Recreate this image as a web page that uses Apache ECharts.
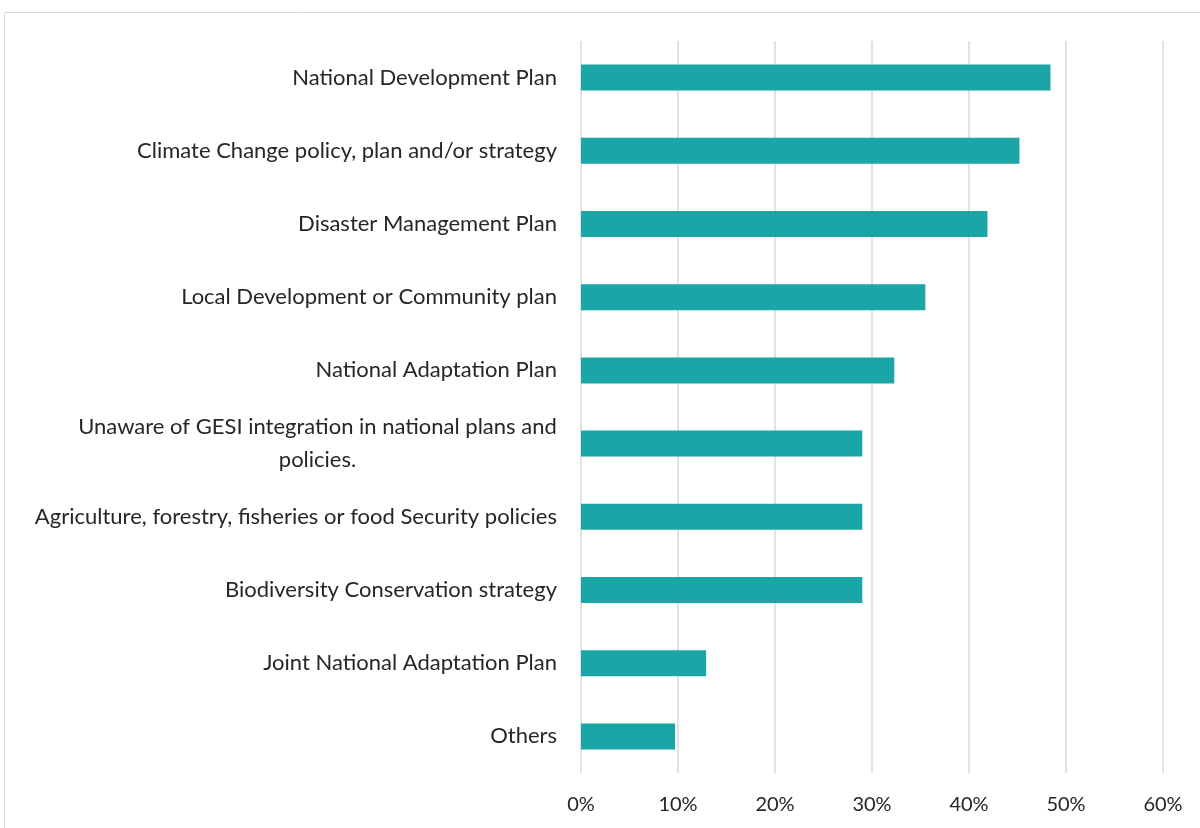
<!DOCTYPE html>
<html>
<head>
<meta charset="utf-8">
<style>
  html, body { margin: 0; padding: 0; background: #ffffff; }
  #chart { width: 1200px; height: 828px; }
</style>
<script src="https://cdn.jsdelivr.net/npm/echarts@6/dist/echarts.min.js"></script>
</head>
<body>
<div id="chart"></div>
<script>
// Plans and policies in which GESI is integrated (share of respondents)
const categories = [
  'National Development Plan',
  'Climate Change policy, plan and/or strategy',
  'Disaster Management Plan',
  'Local Development or Community plan',
  'National Adaptation Plan',
  'Unaware of GESI integration in national plans and\npolicies.',
  'Agriculture, forestry, fisheries or food Security policies',
  'Biodiversity Conservation strategy',
  'Joint National Adaptation Plan',
  'Others'
];
const shares = [48.4, 45.2, 41.9, 35.5, 32.3, 29.0, 29.0, 29.0, 12.9, 9.7];
const xTicks = [0, 10, 20, 30, 40, 50, 60];

const FONT = 'Lato';
const TEXT = '#262626';
const LABEL_SIZE = 22;

// Width of the widest line of a wrapped label, so its lines can be centred
// against each other while the block stays right-aligned to the axis.
const ctx = document.createElement('canvas').getContext('2d');
ctx.font = LABEL_SIZE + 'px ' + FONT;
function widest(text) {
  return Math.ceil(Math.max.apply(null, text.split('\n').map(l => ctx.measureText(l).width)));
}
const wrapWidth = Math.max.apply(null, categories.filter(c => c.indexOf('\n') >= 0).map(widest));

const chart = echarts.init(document.getElementById('chart'));
chart.setOption({
  animation: false,
  backgroundColor: '#ffffff',
  graphic: [{
    type: 'rect',
    shape: { x: 4.5, y: 12.5, width: 1300, height: 900 },
    style: { fill: 'none', stroke: '#d9d9d9', lineWidth: 1 },
    silent: true
  }],
  grid: { left: 581, right: 37, top: 41, bottom: 55, containLabel: false },
  xAxis: {
    type: 'value',
    min: xTicks[0],
    max: xTicks[xTicks.length - 1],
    interval: 10,
    axisLine: { show: false },
    axisTick: { show: false },
    splitLine: { show: true, lineStyle: { color: '#d9d9d9', width: 1.5 } },
    axisLabel: {
      margin: 22,
      color: TEXT,
      fontFamily: FONT,
      fontSize: 20,
      formatter: v => v + '%'
    }
  },
  yAxis: {
    type: 'category',
    inverse: true,
    data: categories,
    axisLine: { show: false },
    axisTick: { show: false },
    axisLabel: {
      margin: 24,
      color: TEXT,
      fontFamily: FONT,
      fontSize: LABEL_SIZE,
      lineHeight: 33,
      formatter: v => v.indexOf('\n') >= 0
        ? v.split('\n').map(l => '{c|' + l + '}').join('\n')
        : v,
      rich: {
        c: { width: wrapWidth, align: 'center', color: TEXT, fontFamily: FONT, fontSize: LABEL_SIZE, lineHeight: 33 }
      }
    }
  },
  series: [{
    type: 'bar',
    data: shares,
    barWidth: 26,
    itemStyle: { color: '#1ba5a6' }
  }]
});
</script>
</body>
</html>
